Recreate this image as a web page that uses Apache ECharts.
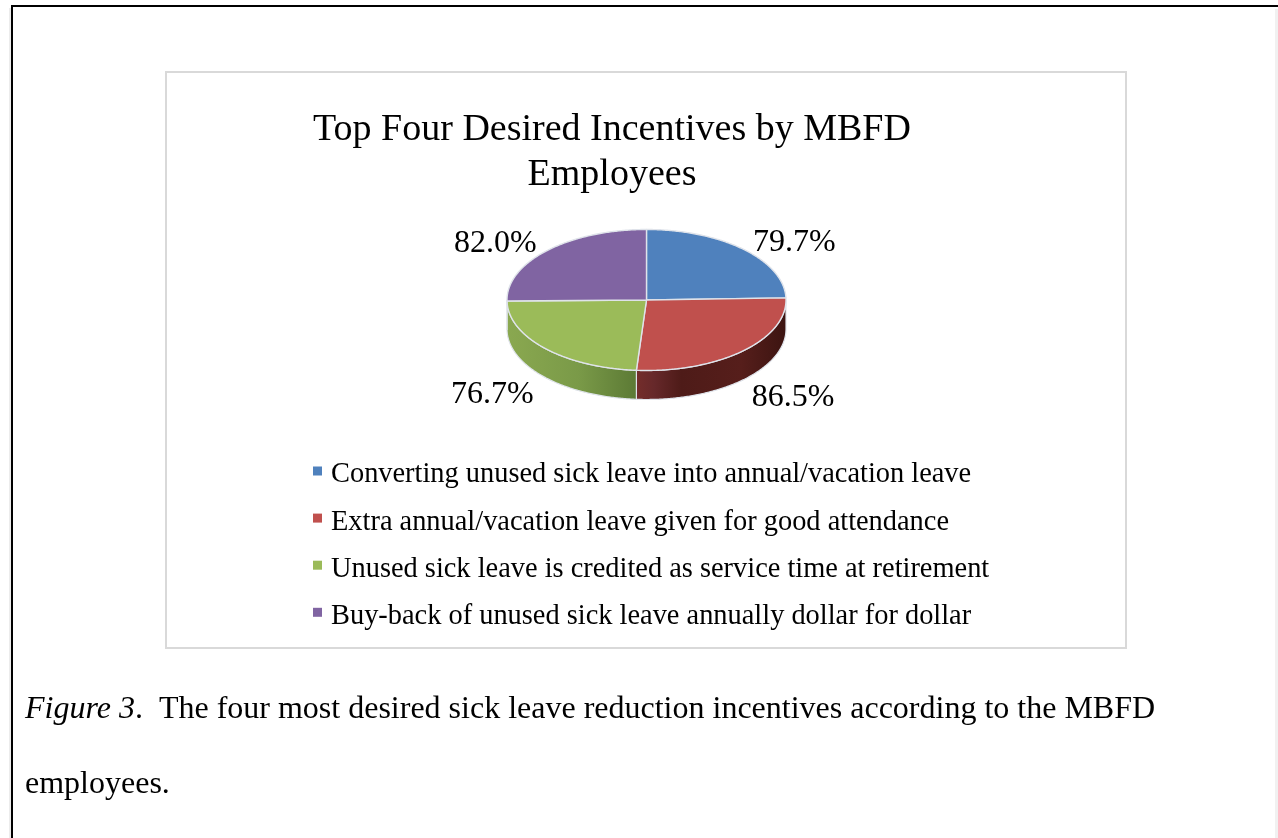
<!DOCTYPE html>
<html>
<head>
<meta charset="utf-8">
<style>html,body{margin:0;padding:0;background:#fff}#chart{width:1278px;height:838px}</style>
<script src="https://cdn.jsdelivr.net/npm/echarts@6/dist/echarts.min.js"></script>
</head>
<body>
<div id="chart"></div>
<script>
// Survey results: share of employees wanting each incentive
const categories = [
  'Converting unused sick leave into annual/vacation leave',
  'Extra annual/vacation leave given for good attendance',
  'Unused sick leave is credited as service time at retirement',
  'Buy-back of unused sick leave annually dollar for dollar'
];
const percentages = [79.7, 86.5, 76.7, 82.0];
const topColors = ['#4f81bd', '#c0504d', '#9bbb59', '#8064a2'];
const wallStops = [
  [[0, '#2f4d72'], [1, '#3f6796']],
  [[0, '#3c1411'], [0.3, '#561e1b'], [0.7, '#4e1b18'], [0.88, '#66282a'], [1, '#742d2b']],
  [[0, '#5c7a35'], [0.45, '#7a9a48'], [1, '#8aa850']],
  [[0, '#4c3b62'], [1, '#5f4a7a']]
];

const titleLines = ['Top Four Desired Incentives by MBFD', 'Employees'];
const captionLead = 'Figure 3';
const captionRest = '.  The four most desired sick leave reduction incentives according to the MBFD';
const captionTail = 'employees.';

const SERIF = '"Liberation Serif", serif';
const CHART_FONT = '"Liberation Serif", serif';

// Tilted pie geometry
const cx = 646.5, cy = 300, rx = 139.5, ry = 70.5, depth = 29;
const edge = '#dfe3ea';
const total = percentages.reduce((a, b) => a + b, 0);

function angleAt(i) {
  let s = 0;
  for (let k = 0; k < i; k++) s += percentages[k];
  return s / total * Math.PI * 2;
}
const rimPoint = (a, dy) => [cx + rx * Math.sin(a), cy - ry * Math.cos(a) + dy];

function arcPoints(a0, a1, dy) {
  const n = Math.max(2, Math.ceil(Math.abs(a1 - a0) / 0.01));
  const pts = [];
  for (let j = 0; j <= n; j++) pts.push(rimPoint(a0 + (a1 - a0) * j / n, dy));
  return pts;
}

function renderSlice(i) {
  const a0 = angleAt(i), a1 = angleAt(i + 1), mid = (a0 + a1) / 2;
  const children = [];
  // the wall only shows on the front half of the rim
  const w0 = Math.max(a0, Math.PI / 2), w1 = Math.min(a1, Math.PI * 1.5);
  if (w1 > w0) {
    const top = arcPoints(w0, w1, 0), bottom = arcPoints(w1, w0, depth);
    const xs = top.concat(bottom).map(p => p[0]);
    const x0 = Math.min(...xs), x1 = Math.max(...xs);
    children.push({
      type: 'polygon',
      shape: { points: top.concat(bottom) },
      style: {
        fill: {
          type: 'linear', x: x1, y: 0, x2: x0, y2: 0, global: true,
          colorStops: wallStops[i].map(s => ({ offset: s[0], color: s[1] }))
        },
        stroke: edge, lineWidth: 1.2
      }
    });
  }
  children.push({
    type: 'polygon',
    shape: { points: [[cx, cy]].concat(arcPoints(a0, a1, 0)) },
    style: { fill: topColors[i], stroke: edge, lineWidth: 1.4, lineJoin: 'round' }
  });
  const front = Math.cos(mid) < 0;
  children.push({
    type: 'text',
    style: {
      text: percentages[i].toFixed(1) + '%',
      x: cx + rx * 1.52 * Math.sin(mid),
      y: cy - ry * (front ? 1.35 : 1.14) * Math.cos(mid) + (front ? depth : 0),
      align: 'center', verticalAlign: 'middle',
      font: '32px ' + CHART_FONT, fill: '#000'
    }
  });
  return { type: 'group', children };
}

const sliceSeries = categories.map((name, i) => ({
  name,
  type: 'custom',
  coordinateSystem: 'none',
  silent: true,
  animation: false,
  clip: false,
  itemStyle: { color: topColors[i] },
  data: [[percentages[i]]],
  renderItem: () => renderSlice(i)
}));

const chart = echarts.init(document.getElementById('chart'), null, { renderer: 'canvas' });
chart.setOption({
  backgroundColor: '#ffffff',
  animation: false,
  legend: {
    orient: 'vertical',
    left: 308, top: 455.5,
    itemWidth: 9, itemHeight: 17, itemGap: 18.1,
    // square sits in the upper part of the symbol box, level with the x-height
    icon: 'path://M0 0H9V9H0Z M0 17L0 17',
    selectedMode: false,
    data: categories,
    textStyle: { fontFamily: CHART_FONT, fontSize: 28.4, color: '#000', padding: [0, 0, 0, 4], lineHeight: 29 }
  },
  graphic: [
    { type: 'rect', silent: true, z: -2, shape: { x: 9, y: 8, width: 2, height: 830 }, style: { fill: '#ececec' } },
    { type: 'rect', silent: true, z: -2, shape: { x: 1275, y: 9, width: 3, height: 829 }, style: { fill: '#f1f1f1' } },
    { type: 'rect', silent: true, z: -1, shape: { x: 166, y: 72, width: 960, height: 576 },
      style: { fill: '#fff', stroke: '#d9d9d9', lineWidth: 2 } },
    { type: 'line', silent: true, shape: { x1: 11, y1: 6, x2: 1278, y2: 6 }, style: { stroke: '#000', lineWidth: 2 } },
    { type: 'line', silent: true, shape: { x1: 12, y1: 6, x2: 12, y2: 838 }, style: { stroke: '#000', lineWidth: 2 } },
    { type: 'text', silent: true, style: { text: titleLines[0], x: 612, y: 130, align: 'center', verticalAlign: 'middle', font: '38px ' + CHART_FONT, fill: '#000' } },
    { type: 'text', silent: true, style: { text: titleLines[1], x: 612, y: 175, align: 'center', verticalAlign: 'middle', font: '38px ' + CHART_FONT, fill: '#000' } },
    { type: 'text', silent: true, style: {
        x: 25, y: 710, verticalAlign: 'middle',
        rich: {
          lead: { font: 'italic 32px ' + SERIF, fill: '#000' },
          rest: { font: '32px ' + SERIF, fill: '#000' }
        },
        text: '{lead|' + captionLead + '}{rest|' + captionRest + '}'
      } },
    { type: 'text', silent: true, style: { text: captionTail, x: 25, y: 785, verticalAlign: 'middle', font: '32px ' + SERIF, fill: '#000' } }
  ],
  series: sliceSeries
});
</script>
</body>
</html>
